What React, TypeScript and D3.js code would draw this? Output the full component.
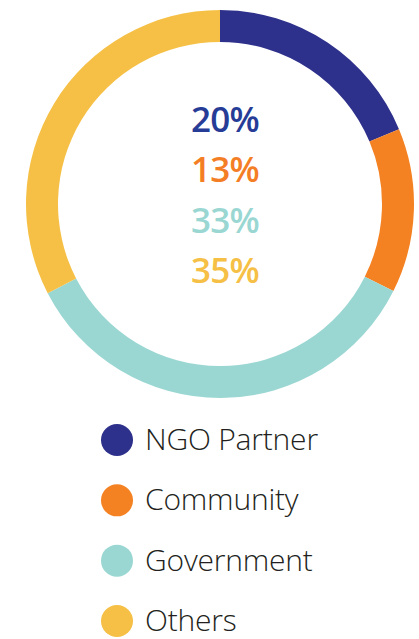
import React from 'react';
import * as d3 from 'd3';

const width = 419;
const height = 639;

// segment order clockwise from 12 o'clock
const categories = ['NGO Partner', 'Community', 'Government', 'Others'];
// arc shares as drawn in the ring
const arcShares = [18.7, 13.7, 35.0, 32.6];
// percentages printed in the centre
const centreLabels = ['20%', '13%', '33%', '35%'];
const ringColors = ['#2E318B', '#F48222', '#9AD7D3', '#F5C045'];
const labelColors = ['#263C96', '#F47E25', '#9AD7D3', '#F5C045'];

const App = () => {
  const cx = 220;
  const cy = 204;
  const outerR = 194;
  const innerR = 162;

  const pie = d3.pie<number>().sort(null).value(d => d);
  const arcs = pie(arcShares);
  const arc = d3.arc<d3.PieArcDatum<number>>().innerRadius(innerR).outerRadius(outerR);

  // centre percentage lines
  const labelY = d3.scalePoint<string>().domain(centreLabels).range([132, 283]);

  // legend rows
  const legendY = d3.scalePoint<string>().domain(categories).range([440, 621]);

  return (
    <div style={{ position: 'absolute', left: 0, top: 0 }}>
      <svg width={width} height={height} style={{ display: 'block', background: '#fff' }}>
        <g transform={`translate(${cx},${cy})`}>
          {arcs.map((a, i) => (
            <path key={categories[i]} d={arc(a) || ''} fill={ringColors[i]} />
          ))}
        </g>

        {centreLabels.map((t, i) => (
          <text
            key={t + i}
            x={225}
            y={labelY(t)}
            textAnchor="middle"
            fill={labelColors[i]}
            style={{ fontFamily: '"Open Sans", sans-serif', fontWeight: 600, fontSize: 35, letterSpacing: -0.8 }}
          >
            {t}
          </text>
        ))}

        {categories.map((c, i) => (
          <g key={c} transform={`translate(0,${legendY(c)})`}>
            <circle cx={117} cy={0} r={16} fill={ringColors[i]} />
            <text
              x={145}
              y={10}
              fill="#231F20"
              style={{ fontFamily: '"Open Sans", sans-serif', fontWeight: 300, fontSize: 30, letterSpacing: -0.2 }}
            >
              {c}
            </text>
          </g>
        ))}
      </svg>
    </div>
  );
};

export default App;
